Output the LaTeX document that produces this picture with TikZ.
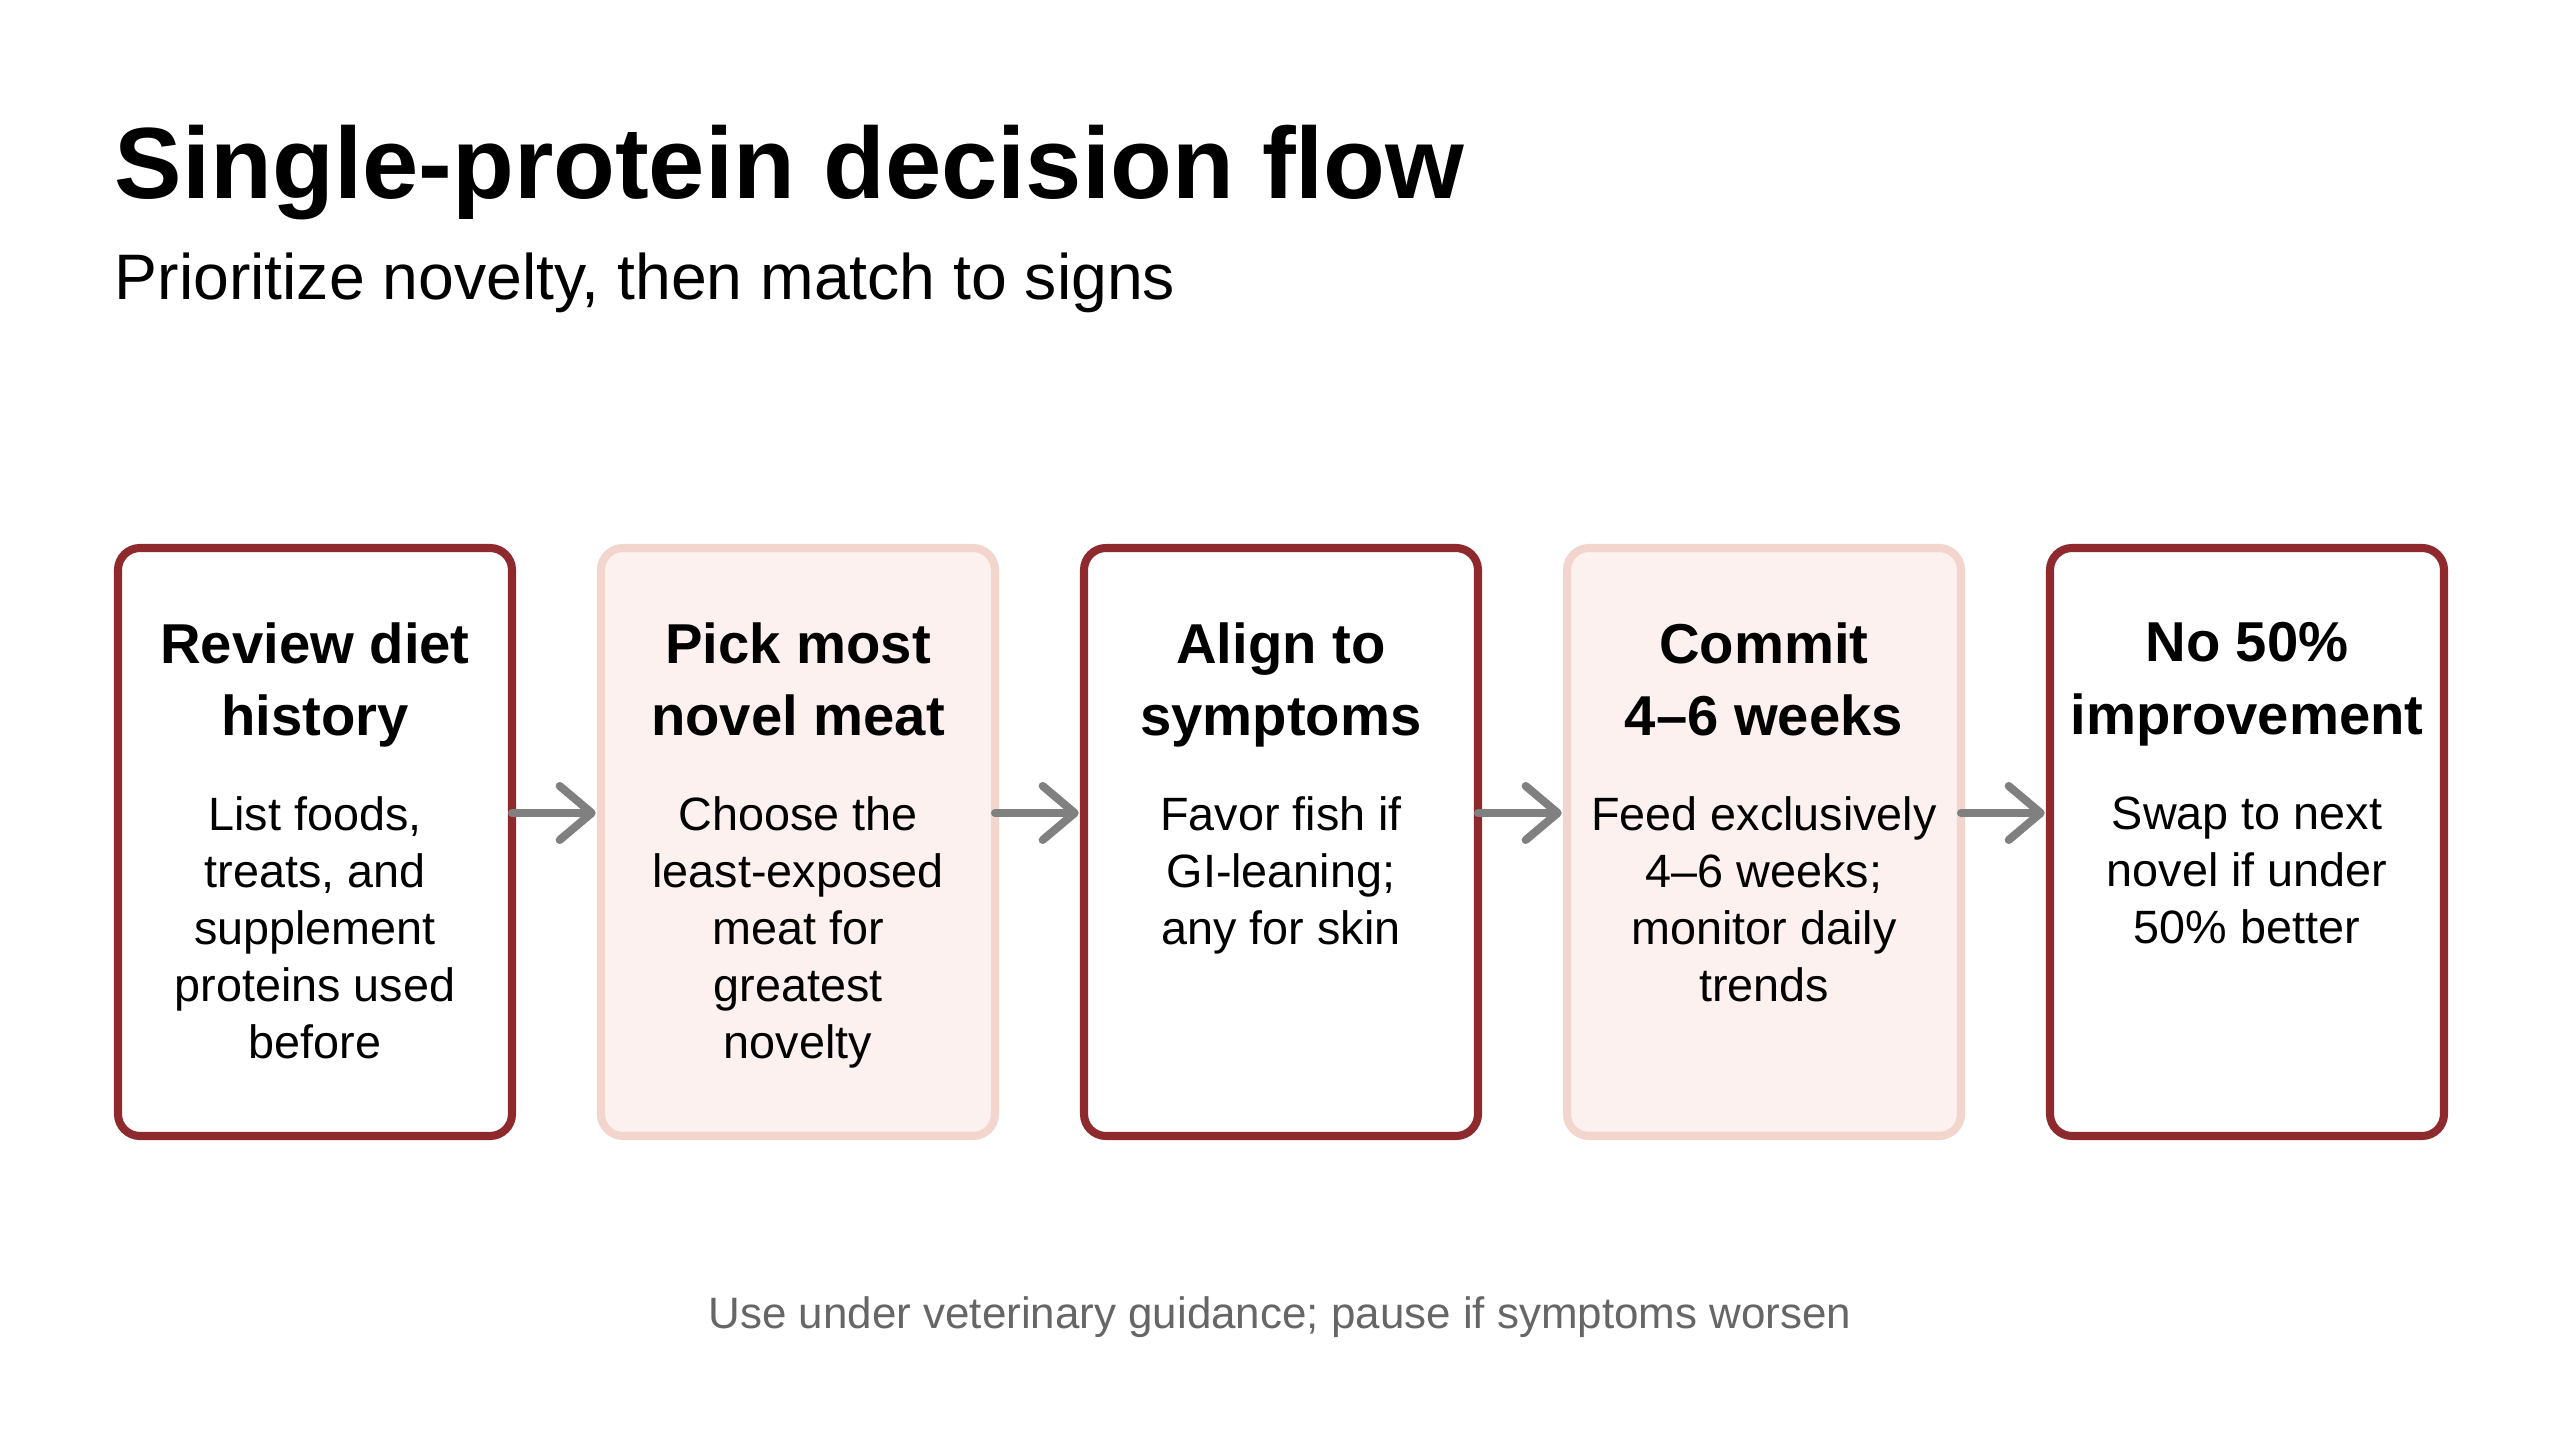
\documentclass[tikz,border=0pt]{standalone}
\usepackage{fontspec}
\setmainfont{Liberation Sans}
\usepackage{xcolor}
\usetikzlibrary{arrows.meta, positioning, calc}

\definecolor{darkred}{HTML}{8E2A2E}
\definecolor{softline}{HTML}{F2D6CE}
\definecolor{softfill}{HTML}{FCF1EE}
\definecolor{arrowgray}{HTML}{808080}
\definecolor{notegray}{HTML}{666666}

\tikzset{
	stepbox/.style={draw, rounded corners=2.2mm, line width=2.3pt, minimum width=3.94cm, minimum height=5.88cm, inner sep=0pt, outer sep=0pt},
	darkstep/.style={stepbox, draw=darkred, fill=white},
	softstep/.style={stepbox, draw=softline, fill=softfill},
	stephead/.style={align=center, inner sep=0pt, font=\fontsize{16}{20.5}\selectfont\bfseries},
	stepbody/.style={align=center, inner sep=0pt, font=\fontsize{13.3}{16.2}\selectfont},
	flow/.style={-{Straight Barb[length=3.2mm, width=5.4mm, line cap=round, line join=round]}, line width=2.3pt, draw=arrowgray, line cap=round}
}

\begin{document}
\begin{tikzpicture}
			
			\useasboundingbox[fill=white] (0,0) rectangle (25.6,14.29);
			
			% Heading
			\node[anchor=base west, inner sep=0pt, font=\fontsize{28.8}{35}\selectfont\bfseries] (title) at (1.14,12.30) {Single-protein decision flow};
			\node[anchor=base west, inner sep=0pt, font=\fontsize{18.3}{22}\selectfont] (subtitle) at (1.14,11.29) {Prioritize novelty, then match to signs};
			
			% Steps
			\node[darkstep] (review) at (3.15,5.87) {};
			\node[softstep, right=0.89cm of review] (pick) {};
			\node[darkstep, right=0.89cm of pick] (align) {};
			\node[softstep, right=0.89cm of align] (commit) {};
			\node[darkstep, right=0.89cm of commit] (swap) {};
			
			% Step texts
			\node[stephead, below=0.74cm of review.north] (reviewhead) {Review diet\\history};
			\node[stepbody, below=2.48cm of review.north] (reviewbody) {List foods,\\treats, and\\supplement\\proteins used\\before};
			
			\node[stephead, below=0.74cm of pick.north] (pickhead) {Pick most\\novel meat};
			\node[stepbody, below=2.48cm of pick.north] (pickbody) {Choose the\\least-exposed\\meat for\\greatest\\novelty};
			
			\node[stephead, below=0.74cm of align.north] (alignhead) {Align to\\symptoms};
			\node[stepbody, below=2.48cm of align.north] (alignbody) {Favor fish if\\GI-leaning;\\any for skin};
			
			\node[stephead, below=0.74cm of commit.north] (commithead) {Commit\\4--6 weeks};
			\node[stepbody, below=2.48cm of commit.north] (commitbody) {Feed exclusively\\4--6 weeks;\\monitor daily\\trends};
			
			\node[stephead, below=0.74cm of swap.north] (swaphead) {No 50\%\\improvement};
			\node[stepbody, below=2.48cm of swap.north] (swapbody) {Swap to next\\novel if under\\50\% better};
			
			% Arrows between steps
			\draw[flow] ([yshift=0.29cm]review.east) -- ([xshift=-1.5pt, yshift=0.29cm]pick.west);
			\draw[flow] ([yshift=0.29cm]pick.east) -- ([xshift=-1.5pt, yshift=0.29cm]align.west);
			\draw[flow] ([yshift=0.29cm]align.east) -- ([xshift=-1.5pt, yshift=0.29cm]commit.west);
			\draw[flow] ([yshift=0.29cm]commit.east) -- ([xshift=-1.5pt, yshift=0.29cm]swap.west);
			
			% Footnote
			\node[anchor=base, inner sep=0pt, text=notegray, font=\fontsize{12.5}{15}\selectfont] (note) at (12.80,1.00) {Use under veterinary guidance; pause if symptoms worsen};
			
		\end{tikzpicture}
\end{document}
